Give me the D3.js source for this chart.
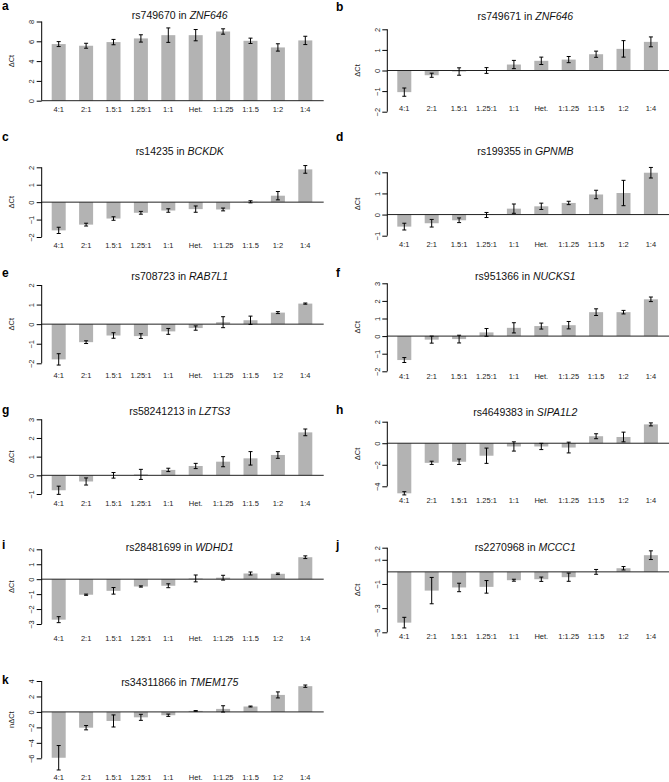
<!DOCTYPE html>
<html><head><meta charset="utf-8">
<script src="https://cdn.jsdelivr.net/npm/d3@7"></script>
<style>body{margin:0;background:#fff}svg{display:block}</style>
</head><body>
<svg id="chart" width="669" height="782"></svg>
<script>
const categories = ["4:1","2:1","1.5:1","1.25:1","1:1","Het.","1:1.25","1:1.5","1:2","1:4"];
const panelLetters = ["a","b","c","d","e","f","g","h","i","j","k"];
const snps = ["rs749670","rs749671","rs14235","rs199355","rs708723","rs951366","rs58241213","rs4649383","rs28481699","rs2270968","rs34311866"];
const genes = ["ZNF646","ZNF646","BCKDK","GPNMB","RAB7L1","NUCKS1","LZTS3","SIPA1L2","WDHD1","MCCC1","TMEM175"];
const yLabels = ["ΔCt","ΔCt","ΔCt","ΔCt","ΔCt","ΔCt","ΔCt","ΔCt","ΔCt","ΔCt","nΔCt"];

const valuesA = [5.72,5.55,5.92,6.29,6.62,6.62,6.99,6.05,5.38,6.09];
const errorsA = [0.25,0.25,0.27,0.37,0.73,0.57,0.27,0.27,0.37,0.42];
const valuesB = [-1.05,-0.23,-0.05,0.0,0.29,0.47,0.53,0.79,1.05,1.39];
const errorsB = [0.2,0.1,0.18,0.14,0.2,0.18,0.15,0.15,0.4,0.24];
const valuesC = [-1.62,-1.29,-0.94,-0.61,-0.48,-0.4,-0.42,0.02,0.37,1.88];
const errorsC = [0.18,0.08,0.1,0.08,0.1,0.18,0.08,0.06,0.24,0.22];
const valuesD = [-0.57,-0.41,-0.27,-0.02,0.28,0.39,0.55,0.95,1.02,1.98];
const errorsD = [0.16,0.18,0.11,0.12,0.22,0.15,0.08,0.2,0.6,0.25];
const valuesE = [-1.8,-0.92,-0.58,-0.61,-0.37,-0.2,0.1,0.2,0.59,1.05];
const errorsE = [0.29,0.07,0.14,0.12,0.15,0.11,0.28,0.21,0.05,0.03];
const valuesF = [-1.36,-0.2,-0.17,0.21,0.47,0.57,0.62,1.36,1.36,2.09];
const errorsF = [0.14,0.2,0.22,0.22,0.29,0.17,0.21,0.19,0.1,0.13];
const valuesG = [-0.8,-0.33,0.0,0.05,0.29,0.5,0.73,0.91,1.09,2.3];
const errorsG = [0.22,0.19,0.15,0.27,0.09,0.14,0.27,0.36,0.18,0.18];
const valuesH = [-4.65,-1.82,-1.72,-1.16,-0.3,-0.3,-0.4,0.65,0.58,1.75];
const errorsH = [0.15,0.15,0.25,0.71,0.43,0.29,0.5,0.23,0.45,0.14];
const valuesI = [-2.71,-1.04,-0.78,-0.49,-0.44,0.05,0.1,0.38,0.36,1.47];
const errorsI = [0.2,0.04,0.22,0.04,0.13,0.23,0.16,0.1,0.05,0.09];
const valuesJ = [-4.2,-1.55,-1.29,-1.24,-0.69,-0.61,-0.44,0.0,0.3,1.38];
const errorsJ = [0.44,1.09,0.35,0.52,0.08,0.18,0.34,0.2,0.14,0.36];
const valuesK = [-5.93,-2.04,-1.17,-0.7,-0.43,0.13,0.39,0.7,2.2,3.33];
const errorsK = [1.58,0.28,0.78,0.39,0.15,0.04,0.41,0.06,0.39,0.15];

const ticksA = [0,2,4,6,8];
const ticksB = [-2,-1,0,1,2];
const ticksC = [-2,-1,0,1,2];
const ticksD = [-1,0,1,2];
const ticksE = [-2,-1,0,1,2];
const ticksF = [-2,-1,0,1,2,3];
const ticksG = [-1,0,1,2,3];
const ticksH = [-4,-2,0,2];
const ticksI = [-3,-2,-1,0,1,2];
const ticksJ = [-5,-3,-1,1,2];
const ticksK = [-6,-4,-2,0,2,4];

const allValues = [valuesA,valuesB,valuesC,valuesD,valuesE,valuesF,valuesG,valuesH,valuesI,valuesJ,valuesK];
const allErrors = [errorsA,errorsB,errorsC,errorsD,errorsE,errorsF,errorsG,errorsH,errorsI,errorsJ,errorsK];
const allTicks = [ticksA,ticksB,ticksC,ticksD,ticksE,ticksF,ticksG,ticksH,ticksI,ticksJ,ticksK];

// panel geometry (layout only)
const layout = [
  {ox:41.7,  yTop:21.5,  yBot:100.7, labY:109,   titleY:15,  letterY:6},
  {ox:387.3, yTop:29.3,  yBot:111.7, labY:108,   titleY:16.5,letterY:6.5},
  {ox:41.7,  yTop:167.3, yBot:237,   labY:245,   titleY:151, letterY:137},
  {ox:387.3, yTop:172.3, yBot:235.7, labY:244.7, titleY:151, letterY:137},
  {ox:41.7,  yTop:285,   yBot:363.3, labY:375,   titleY:276, letterY:273},
  {ox:387.3, yTop:283.3, yBot:371.3, labY:376.7, titleY:276, letterY:273},
  {ox:41.7,  yTop:419.3, yBot:494,   labY:503.3, titleY:411.5,letterY:410},
  {ox:387.3, yTop:421.7, yBot:486.3, labY:500,   titleY:412, letterY:410},
  {ox:41.7,  yTop:549.3, yBot:624,   labY:638.3, titleY:547.5,letterY:545},
  {ox:387.3, yTop:547.7, yBot:632.3, labY:636.7, titleY:547, letterY:545},
  {ox:41.7,  yTop:681,   yBot:758.3, labY:777,   titleY:682, letterY:680}
];

const svg = d3.select("#chart");
const FONT = "'Liberation Sans', Arial, Helvetica, sans-serif";
const barColor = "#b3b3b3";
const plotWidth = 282, firstOff = 17, step = 27.4, barW = 14;

layout.forEach((L, p) => {
  const g = svg.append("g").attr("font-family", FONT);
  const ticks = allTicks[p];
  const y = d3.scaleLinear().domain([d3.min(ticks), d3.max(ticks)]).range([L.yBot, L.yTop]);
  const x = d3.scalePoint().domain(categories).range([L.ox + firstOff, L.ox + firstOff + step * (categories.length - 1)]);
  const vals = allValues[p], errs = allErrors[p];

  // letter
  g.append("text").attr("x", L.ox < 100 ? 2 : 336).attr("y", L.letterY).attr("dy", "0.35em")
    .attr("font-size", 12).attr("font-weight", "bold").text(panelLetters[p]);
  // title
  const t = g.append("text").attr("x", L.ox + 138).attr("y", L.titleY).attr("dy", "0.35em")
    .attr("text-anchor", "middle").attr("font-size", 10.5).attr("fill", "#111");
  t.append("tspan").text(snps[p] + " in ");
  t.append("tspan").attr("font-style", "italic").text(genes[p]);

  // bars
  g.selectAll("rect.bar").data(categories).enter().append("rect")
    .attr("x", d => x(d) - barW / 2)
    .attr("width", barW)
    .attr("y", (d, i) => Math.min(y(vals[i]), y(0)))
    .attr("height", (d, i) => Math.abs(y(vals[i]) - y(0)))
    .attr("fill", barColor);

  // zero line
  g.append("line").attr("x1", L.ox).attr("x2", L.ox + plotWidth)
    .attr("y1", y(0)).attr("y2", y(0)).attr("stroke", "#222").attr("stroke-width", 1);

  // error bars
  const eb = g.selectAll("g.err").data(categories).enter().append("g")
    .attr("stroke", "#000").attr("stroke-width", 1);
  eb.append("line").attr("x1", d => x(d)).attr("x2", d => x(d))
    .attr("y1", (d, i) => y(vals[i] - errs[i])).attr("y2", (d, i) => y(vals[i] + errs[i]));
  eb.append("line").attr("x1", d => x(d) - 2).attr("x2", d => x(d) + 2)
    .attr("y1", (d, i) => y(vals[i] - errs[i])).attr("y2", (d, i) => y(vals[i] - errs[i]));
  eb.append("line").attr("x1", d => x(d) - 2).attr("x2", d => x(d) + 2)
    .attr("y1", (d, i) => y(vals[i] + errs[i])).attr("y2", (d, i) => y(vals[i] + errs[i]));

  // y axis
  const ax = g.append("g").attr("transform", `translate(${L.ox},0)`)
    .call(d3.axisLeft(y).tickValues(ticks).tickSize(5).tickSizeOuter(0).tickFormat(d3.format("d")));
  ax.select(".domain").attr("stroke", "#000").attr("d", `M0,${y(d3.min(ticks))}V${y(d3.max(ticks))}`);
  ax.selectAll(".tick line").attr("stroke", "#000");
  ax.selectAll(".tick text").attr("font-family", FONT).attr("font-size", 7.5).attr("fill", "#222")
    .attr("x", 0).attr("dy", 0).attr("text-anchor", "middle")
    .attr("transform", "translate(-10,0) rotate(-90)").attr("dominant-baseline", "central");

  // y label
  g.append("text").attr("transform", `translate(${L.ox - 30},${(L.yTop + L.yBot) / 2}) rotate(-90)`)
    .attr("text-anchor", "middle").attr("dy", "0.35em").attr("font-size", 7.5).attr("fill", "#222")
    .text(yLabels[p]);

  // x labels
  g.selectAll("text.xl").data(categories).enter().append("text")
    .attr("x", d => x(d)).attr("y", L.labY).attr("dy", "0.35em")
    .attr("text-anchor", "middle").attr("font-size", 7.5).attr("fill", "#222").text(d => d);
});
</script>
</body></html>
